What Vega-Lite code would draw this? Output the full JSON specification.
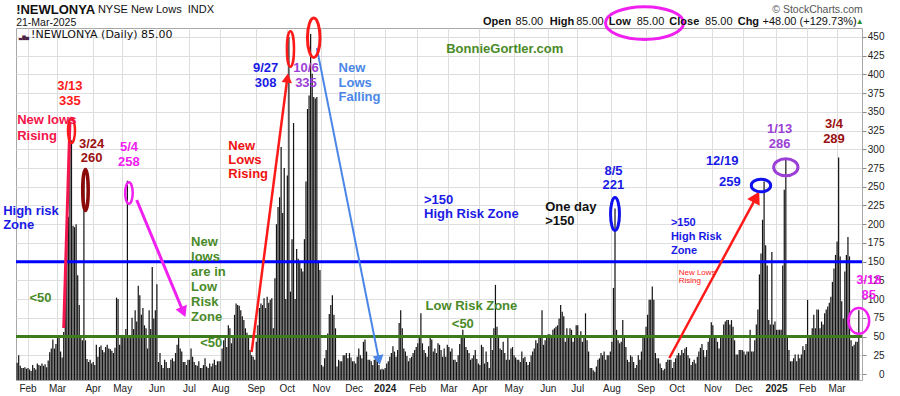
{
"$schema":"https://vega.github.io/schema/vega-lite/v6.json",
"width":846,"height":352,
"autosize":{"type":"none"},
"padding":{"left":16,"top":28,"right":38,"bottom":16},
"background":"white",
"config":{"view":{"stroke":"#a8a8a8"},"font":"Liberation Sans"},
"resolve":{"axis":{"x":"independent","y":"independent"}},
"datasets":{
"lows":[
{"d":"2023-01-23","v":15},{"d":"2023-01-24","v":25},{"d":"2023-01-25","v":11},{"d":"2023-01-26","v":8},{"d":"2023-01-27","v":8},{"d":"2023-01-30","v":9},{"d":"2023-01-31","v":7},
{"d":"2023-02-01","v":8},{"d":"2023-02-02","v":6},{"d":"2023-02-03","v":4},{"d":"2023-02-06","v":12},{"d":"2023-02-07","v":8},{"d":"2023-02-08","v":6},{"d":"2023-02-09","v":14},{"d":"2023-02-10","v":12},{"d":"2023-02-13","v":11},{"d":"2023-02-14","v":14},{"d":"2023-02-15","v":11},{"d":"2023-02-16","v":13},{"d":"2023-02-17","v":9},{"d":"2023-02-21","v":18},{"d":"2023-02-22","v":29},{"d":"2023-02-23","v":34},{"d":"2023-02-24","v":46},{"d":"2023-02-27","v":34},{"d":"2023-02-28","v":40},
{"d":"2023-03-01","v":48},{"d":"2023-03-02","v":48},{"d":"2023-03-03","v":30},{"d":"2023-03-06","v":22},{"d":"2023-03-07","v":56},{"d":"2023-03-08","v":96},{"d":"2023-03-09","v":206},{"d":"2023-03-10","v":210},{"d":"2023-03-13","v":335},{"d":"2023-03-14","v":312},{"d":"2023-03-15","v":198},{"d":"2023-03-16","v":196},{"d":"2023-03-17","v":200},{"d":"2023-03-20","v":132},{"d":"2023-03-21","v":92},{"d":"2023-03-22","v":48},{"d":"2023-03-23","v":45},{"d":"2023-03-24","v":260},{"d":"2023-03-27","v":45},{"d":"2023-03-28","v":20},{"d":"2023-03-29","v":16},{"d":"2023-03-30","v":19},{"d":"2023-03-31","v":14},
{"d":"2023-04-03","v":16},{"d":"2023-04-04","v":12},{"d":"2023-04-05","v":39},{"d":"2023-04-06","v":23},{"d":"2023-04-10","v":36},{"d":"2023-04-11","v":38},{"d":"2023-04-12","v":32},{"d":"2023-04-13","v":29},{"d":"2023-04-14","v":36},{"d":"2023-04-17","v":39},{"d":"2023-04-18","v":34},{"d":"2023-04-19","v":33},{"d":"2023-04-20","v":31},{"d":"2023-04-21","v":28},{"d":"2023-04-24","v":35},{"d":"2023-04-25","v":102},{"d":"2023-04-26","v":100},{"d":"2023-04-27","v":39},{"d":"2023-04-28","v":50},
{"d":"2023-05-01","v":48},{"d":"2023-05-02","v":52},{"d":"2023-05-03","v":60},{"d":"2023-05-04","v":258},{"d":"2023-05-05","v":48},{"d":"2023-05-08","v":48},{"d":"2023-05-09","v":75},{"d":"2023-05-10","v":60},{"d":"2023-05-11","v":85},{"d":"2023-05-12","v":70},{"d":"2023-05-15","v":118},{"d":"2023-05-16","v":105},{"d":"2023-05-17","v":79},{"d":"2023-05-18","v":88},{"d":"2023-05-19","v":65},{"d":"2023-05-22","v":61},{"d":"2023-05-23","v":34},{"d":"2023-05-24","v":85},{"d":"2023-05-25","v":60},{"d":"2023-05-26","v":143},{"d":"2023-05-30","v":74},{"d":"2023-05-31","v":85},
{"d":"2023-06-01","v":120},{"d":"2023-06-02","v":16},{"d":"2023-06-05","v":28},{"d":"2023-06-06","v":12},{"d":"2023-06-07","v":8},{"d":"2023-06-08","v":19},{"d":"2023-06-09","v":16},{"d":"2023-06-12","v":8},{"d":"2023-06-13","v":8},{"d":"2023-06-14","v":19},{"d":"2023-06-15","v":21},{"d":"2023-06-16","v":17},{"d":"2023-06-20","v":28},{"d":"2023-06-21","v":39},{"d":"2023-06-22","v":48},{"d":"2023-06-23","v":34},{"d":"2023-06-26","v":30},{"d":"2023-06-27","v":16},{"d":"2023-06-28","v":16},{"d":"2023-06-29","v":12},{"d":"2023-06-30","v":19},
{"d":"2023-07-03","v":19},{"d":"2023-07-05","v":34},{"d":"2023-07-06","v":23},{"d":"2023-07-07","v":16},{"d":"2023-07-10","v":12},{"d":"2023-07-11","v":11},{"d":"2023-07-12","v":17},{"d":"2023-07-13","v":8},{"d":"2023-07-14","v":8},{"d":"2023-07-17","v":12},{"d":"2023-07-18","v":21},{"d":"2023-07-19","v":10},{"d":"2023-07-20","v":8},{"d":"2023-07-21","v":14},{"d":"2023-07-24","v":10},{"d":"2023-07-25","v":14},{"d":"2023-07-26","v":19},{"d":"2023-07-27","v":12},{"d":"2023-07-28","v":17},{"d":"2023-07-31","v":17},
{"d":"2023-08-01","v":17},{"d":"2023-08-02","v":34},{"d":"2023-08-03","v":45},{"d":"2023-08-04","v":48},{"d":"2023-08-07","v":36},{"d":"2023-08-08","v":65},{"d":"2023-08-09","v":61},{"d":"2023-08-10","v":41},{"d":"2023-08-11","v":52},{"d":"2023-08-14","v":79},{"d":"2023-08-15","v":94},{"d":"2023-08-16","v":92},{"d":"2023-08-17","v":91},{"d":"2023-08-18","v":85},{"d":"2023-08-21","v":77},{"d":"2023-08-22","v":72},{"d":"2023-08-23","v":61},{"d":"2023-08-24","v":55},{"d":"2023-08-25","v":48},{"d":"2023-08-28","v":32},{"d":"2023-08-29","v":25},{"d":"2023-08-30","v":23},{"d":"2023-08-31","v":19},
{"d":"2023-09-01","v":43},{"d":"2023-09-05","v":65},{"d":"2023-09-06","v":88},{"d":"2023-09-07","v":94},{"d":"2023-09-08","v":92},{"d":"2023-09-11","v":101},{"d":"2023-09-12","v":88},{"d":"2023-09-13","v":103},{"d":"2023-09-14","v":95},{"d":"2023-09-15","v":99},{"d":"2023-09-18","v":101},{"d":"2023-09-19","v":61},{"d":"2023-09-20","v":128},{"d":"2023-09-21","v":200},{"d":"2023-09-22","v":223},{"d":"2023-09-25","v":236},{"d":"2023-09-26","v":303},{"d":"2023-09-27","v":215},{"d":"2023-09-28","v":275},{"d":"2023-09-29","v":100},
{"d":"2023-10-02","v":265},{"d":"2023-10-03","v":450},{"d":"2023-10-04","v":110},{"d":"2023-10-05","v":180},{"d":"2023-10-06","v":335},{"d":"2023-10-09","v":100},{"d":"2023-10-10","v":167},{"d":"2023-10-11","v":154},{"d":"2023-10-12","v":150},{"d":"2023-10-13","v":141},{"d":"2023-10-16","v":137},{"d":"2023-10-17","v":180},{"d":"2023-10-18","v":257},{"d":"2023-10-19","v":354},{"d":"2023-10-20","v":372},{"d":"2023-10-23","v":454},{"d":"2023-10-24","v":401},{"d":"2023-10-25","v":370},{"d":"2023-10-26","v":368},{"d":"2023-10-27","v":370},{"d":"2023-10-30","v":150},{"d":"2023-10-31","v":139},
{"d":"2023-11-01","v":12},{"d":"2023-11-02","v":10},{"d":"2023-11-03","v":21},{"d":"2023-11-06","v":32},{"d":"2023-11-07","v":54},{"d":"2023-11-08","v":80},{"d":"2023-11-09","v":92},{"d":"2023-11-10","v":105},{"d":"2023-11-13","v":79},{"d":"2023-11-14","v":61},{"d":"2023-11-15","v":10},{"d":"2023-11-16","v":19},{"d":"2023-11-17","v":17},{"d":"2023-11-20","v":17},{"d":"2023-11-21","v":25},{"d":"2023-11-22","v":25},{"d":"2023-11-24","v":28},{"d":"2023-11-27","v":21},{"d":"2023-11-28","v":28},{"d":"2023-11-29","v":22},{"d":"2023-11-30","v":17},
{"d":"2023-12-01","v":17},{"d":"2023-12-04","v":14},{"d":"2023-12-05","v":23},{"d":"2023-12-06","v":34},{"d":"2023-12-07","v":25},{"d":"2023-12-08","v":21},{"d":"2023-12-11","v":43},{"d":"2023-12-12","v":46},{"d":"2023-12-13","v":30},{"d":"2023-12-14","v":19},{"d":"2023-12-15","v":19},{"d":"2023-12-18","v":17},{"d":"2023-12-19","v":12},{"d":"2023-12-20","v":19},{"d":"2023-12-21","v":21},{"d":"2023-12-22","v":17},{"d":"2023-12-26","v":12},{"d":"2023-12-27","v":6},{"d":"2023-12-28","v":7},{"d":"2023-12-29","v":6},
{"d":"2024-01-02","v":8},{"d":"2024-01-03","v":14},{"d":"2024-01-04","v":17},{"d":"2024-01-05","v":23},{"d":"2024-01-08","v":28},{"d":"2024-01-09","v":37},{"d":"2024-01-10","v":30},{"d":"2024-01-11","v":23},{"d":"2024-01-12","v":32},{"d":"2024-01-16","v":68},{"d":"2024-01-17","v":85},{"d":"2024-01-18","v":61},{"d":"2024-01-19","v":34},{"d":"2024-01-22","v":30},{"d":"2024-01-23","v":24},{"d":"2024-01-24","v":17},{"d":"2024-01-25","v":21},{"d":"2024-01-26","v":23},{"d":"2024-01-29","v":28},{"d":"2024-01-30","v":32},{"d":"2024-01-31","v":36},
{"d":"2024-02-01","v":41},{"d":"2024-02-02","v":48},{"d":"2024-02-05","v":81},{"d":"2024-02-06","v":41},{"d":"2024-02-07","v":32},{"d":"2024-02-08","v":28},{"d":"2024-02-09","v":23},{"d":"2024-02-12","v":37},{"d":"2024-02-13","v":48},{"d":"2024-02-14","v":46},{"d":"2024-02-15","v":30},{"d":"2024-02-16","v":34},{"d":"2024-02-20","v":28},{"d":"2024-02-21","v":41},{"d":"2024-02-22","v":39},{"d":"2024-02-23","v":32},{"d":"2024-02-26","v":23},{"d":"2024-02-27","v":34},{"d":"2024-02-28","v":23},{"d":"2024-02-29","v":39},
{"d":"2024-03-01","v":36},{"d":"2024-03-04","v":30},{"d":"2024-03-05","v":34},{"d":"2024-03-06","v":19},{"d":"2024-03-07","v":19},{"d":"2024-03-08","v":16},{"d":"2024-03-11","v":25},{"d":"2024-03-12","v":40},{"d":"2024-03-13","v":48},{"d":"2024-03-14","v":59},{"d":"2024-03-15","v":48},{"d":"2024-03-18","v":36},{"d":"2024-03-19","v":32},{"d":"2024-03-20","v":28},{"d":"2024-03-21","v":19},{"d":"2024-03-22","v":21},{"d":"2024-03-25","v":25},{"d":"2024-03-26","v":32},{"d":"2024-03-27","v":20},{"d":"2024-03-28","v":14},
{"d":"2024-04-01","v":12},{"d":"2024-04-02","v":39},{"d":"2024-04-03","v":36},{"d":"2024-04-04","v":14},{"d":"2024-04-05","v":30},{"d":"2024-04-08","v":16},{"d":"2024-04-09","v":8},{"d":"2024-04-10","v":48},{"d":"2024-04-11","v":32},{"d":"2024-04-12","v":61},{"d":"2024-04-15","v":119},{"d":"2024-04-16","v":63},{"d":"2024-04-17","v":48},{"d":"2024-04-18","v":34},{"d":"2024-04-19","v":32},{"d":"2024-04-22","v":43},{"d":"2024-04-23","v":28},{"d":"2024-04-24","v":19},{"d":"2024-04-25","v":48},{"d":"2024-04-26","v":19},{"d":"2024-04-29","v":34},{"d":"2024-04-30","v":36},
{"d":"2024-05-01","v":25},{"d":"2024-05-02","v":22},{"d":"2024-05-03","v":19},{"d":"2024-05-06","v":19},{"d":"2024-05-07","v":16},{"d":"2024-05-08","v":30},{"d":"2024-05-09","v":21},{"d":"2024-05-10","v":23},{"d":"2024-05-13","v":16},{"d":"2024-05-14","v":12},{"d":"2024-05-15","v":16},{"d":"2024-05-16","v":25},{"d":"2024-05-17","v":30},{"d":"2024-05-20","v":34},{"d":"2024-05-21","v":45},{"d":"2024-05-22","v":41},{"d":"2024-05-23","v":52},{"d":"2024-05-24","v":52},{"d":"2024-05-28","v":85},{"d":"2024-05-29","v":39},{"d":"2024-05-30","v":45},{"d":"2024-05-31","v":48},
{"d":"2024-06-03","v":53},{"d":"2024-06-04","v":53},{"d":"2024-06-05","v":48},{"d":"2024-06-06","v":59},{"d":"2024-06-07","v":61},{"d":"2024-06-10","v":63},{"d":"2024-06-11","v":65},{"d":"2024-06-12","v":74},{"d":"2024-06-13","v":92},{"d":"2024-06-14","v":83},{"d":"2024-06-17","v":77},{"d":"2024-06-18","v":43},{"d":"2024-06-20","v":61},{"d":"2024-06-21","v":52},{"d":"2024-06-24","v":61},{"d":"2024-06-25","v":59},{"d":"2024-06-26","v":43},{"d":"2024-06-27","v":50},{"d":"2024-06-28","v":65},
{"d":"2024-07-01","v":65},{"d":"2024-07-02","v":48},{"d":"2024-07-03","v":57},{"d":"2024-07-05","v":43},{"d":"2024-07-08","v":50},{"d":"2024-07-09","v":81},{"d":"2024-07-10","v":45},{"d":"2024-07-11","v":30},{"d":"2024-07-12","v":8},{"d":"2024-07-15","v":8},{"d":"2024-07-16","v":5},{"d":"2024-07-17","v":3},{"d":"2024-07-18","v":10},{"d":"2024-07-19","v":19},{"d":"2024-07-22","v":21},{"d":"2024-07-23","v":28},{"d":"2024-07-24","v":25},{"d":"2024-07-25","v":30},{"d":"2024-07-26","v":19},{"d":"2024-07-29","v":25},{"d":"2024-07-30","v":25},{"d":"2024-07-31","v":30},
{"d":"2024-08-01","v":43},{"d":"2024-08-02","v":115},{"d":"2024-08-05","v":221},{"d":"2024-08-06","v":59},{"d":"2024-08-07","v":45},{"d":"2024-08-08","v":41},{"d":"2024-08-09","v":43},{"d":"2024-08-12","v":72},{"d":"2024-08-13","v":48},{"d":"2024-08-14","v":36},{"d":"2024-08-15","v":19},{"d":"2024-08-16","v":16},{"d":"2024-08-19","v":25},{"d":"2024-08-20","v":23},{"d":"2024-08-21","v":16},{"d":"2024-08-22","v":8},{"d":"2024-08-23","v":12},{"d":"2024-08-26","v":25},{"d":"2024-08-27","v":19},{"d":"2024-08-28","v":30},{"d":"2024-08-29","v":48},{"d":"2024-08-30","v":48},
{"d":"2024-09-03","v":63},{"d":"2024-09-04","v":79},{"d":"2024-09-05","v":99},{"d":"2024-09-06","v":99},{"d":"2024-09-09","v":117},{"d":"2024-09-10","v":99},{"d":"2024-09-11","v":28},{"d":"2024-09-12","v":21},{"d":"2024-09-13","v":21},{"d":"2024-09-16","v":14},{"d":"2024-09-17","v":8},{"d":"2024-09-18","v":5},{"d":"2024-09-19","v":7},{"d":"2024-09-20","v":16},{"d":"2024-09-23","v":19},{"d":"2024-09-24","v":19},{"d":"2024-09-25","v":19},{"d":"2024-09-26","v":8},{"d":"2024-09-27","v":16},{"d":"2024-09-30","v":21},
{"d":"2024-10-01","v":25},{"d":"2024-10-02","v":28},{"d":"2024-10-03","v":25},{"d":"2024-10-04","v":32},{"d":"2024-10-07","v":28},{"d":"2024-10-08","v":34},{"d":"2024-10-09","v":36},{"d":"2024-10-10","v":25},{"d":"2024-10-11","v":21},{"d":"2024-10-14","v":12},{"d":"2024-10-15","v":16},{"d":"2024-10-16","v":19},{"d":"2024-10-17","v":14},{"d":"2024-10-18","v":23},{"d":"2024-10-21","v":30},{"d":"2024-10-22","v":35},{"d":"2024-10-23","v":40},{"d":"2024-10-24","v":32},{"d":"2024-10-25","v":23},{"d":"2024-10-28","v":32},{"d":"2024-10-29","v":43},{"d":"2024-10-30","v":52},{"d":"2024-10-31","v":69},
{"d":"2024-11-01","v":65},{"d":"2024-11-04","v":52},{"d":"2024-11-05","v":48},{"d":"2024-11-06","v":43},{"d":"2024-11-07","v":34},{"d":"2024-11-08","v":48},{"d":"2024-11-11","v":50},{"d":"2024-11-12","v":66},{"d":"2024-11-13","v":70},{"d":"2024-11-14","v":72},{"d":"2024-11-15","v":72},{"d":"2024-11-18","v":66},{"d":"2024-11-19","v":72},{"d":"2024-11-20","v":63},{"d":"2024-11-21","v":45},{"d":"2024-11-22","v":26},{"d":"2024-11-25","v":26},{"d":"2024-11-26","v":32},{"d":"2024-11-27","v":32},{"d":"2024-11-29","v":32},
{"d":"2024-12-02","v":30},{"d":"2024-12-03","v":26},{"d":"2024-12-04","v":30},{"d":"2024-12-05","v":30},{"d":"2024-12-06","v":59},{"d":"2024-12-09","v":30},{"d":"2024-12-10","v":30},{"d":"2024-12-11","v":45},{"d":"2024-12-12","v":66},{"d":"2024-12-13","v":86},{"d":"2024-12-16","v":133},{"d":"2024-12-17","v":161},{"d":"2024-12-18","v":206},{"d":"2024-12-19","v":257},{"d":"2024-12-20","v":172},{"d":"2024-12-23","v":145},{"d":"2024-12-24","v":72},{"d":"2024-12-26","v":66},{"d":"2024-12-27","v":163},{"d":"2024-12-30","v":66},{"d":"2024-12-31","v":70},
{"d":"2025-01-02","v":59},{"d":"2025-01-03","v":59},{"d":"2025-01-06","v":59},{"d":"2025-01-07","v":59},{"d":"2025-01-08","v":145},{"d":"2025-01-10","v":246},{"d":"2025-01-13","v":286},{"d":"2025-01-14","v":52},{"d":"2025-01-15","v":32},{"d":"2025-01-16","v":17},{"d":"2025-01-17","v":17},{"d":"2025-01-21","v":21},{"d":"2025-01-22","v":26},{"d":"2025-01-23","v":17},{"d":"2025-01-24","v":26},{"d":"2025-01-27","v":21},{"d":"2025-01-28","v":26},{"d":"2025-01-29","v":37},{"d":"2025-01-30","v":32},{"d":"2025-01-31","v":40},
{"d":"2025-02-03","v":99},{"d":"2025-02-04","v":52},{"d":"2025-02-05","v":52},{"d":"2025-02-06","v":61},{"d":"2025-02-07","v":79},{"d":"2025-02-10","v":61},{"d":"2025-02-11","v":86},{"d":"2025-02-12","v":86},{"d":"2025-02-13","v":61},{"d":"2025-02-14","v":70},{"d":"2025-02-18","v":66},{"d":"2025-02-19","v":81},{"d":"2025-02-20","v":86},{"d":"2025-02-21","v":90},{"d":"2025-02-24","v":95},{"d":"2025-02-25","v":103},{"d":"2025-02-26","v":123},{"d":"2025-02-27","v":141},{"d":"2025-02-28","v":159},
{"d":"2025-03-03","v":177},{"d":"2025-03-04","v":289},{"d":"2025-03-05","v":157},{"d":"2025-03-06","v":97},{"d":"2025-03-07","v":74},{"d":"2025-03-10","v":137},{"d":"2025-03-11","v":159},{"d":"2025-03-12","v":183},{"d":"2025-03-13","v":157},{"d":"2025-03-14","v":45},{"d":"2025-03-17","v":37},{"d":"2025-03-18","v":39},{"d":"2025-03-19","v":43},{"d":"2025-03-20","v":43},{"d":"2025-03-21","v":85}
]
},
"layer":[
{"data":{"name":"lows"},
 "mark":{"type":"bar","color":"#141414"},
 "encoding":{
  "x":{"field":"d","type":"ordinal","scale":{"type":"band","paddingInner":0.22,"paddingOuter":1.33,"align":0.17,"round":false},
   "axis":{"title":null,"values":["2023-02-01","2023-03-01","2023-04-03","2023-05-01","2023-06-01","2023-07-03","2023-08-01","2023-09-01","2023-10-02","2023-11-01","2023-12-01","2024-01-02","2024-02-01","2024-03-01","2024-04-01","2024-05-01","2024-06-03","2024-07-01","2024-08-01","2024-09-03","2024-10-01","2024-11-01","2024-12-02","2025-01-02","2025-02-03","2025-03-03"],
    "labelExpr":"slice(datum.value,5,7)=='01' ? slice(datum.value,0,4) : utcFormat(toDate(datum.value),'%b')",
    "labelFontWeight":{"condition":{"test":"slice(datum.value,5,7)=='01'","value":"bold"},"value":"normal"},
    "labelAngle":0,"labelFontSize":10,"labelColor":"#222","ticks":false,"labelPadding":3,"domain":false,"grid":true,"gridColor":"#dedede","labelOverlap":false}},
  "y":{"field":"v","type":"quantitative","scale":{"domain":[-8,462],"nice":false,"zero":false},
   "axis":{"title":null,"orient":"right","values":[0,25,50,75,100,125,150,175,200,225,250,275,300,325,350,375,400,425,450],"domain":false,"tickSize":4,"tickColor":"#888","labelAlign":"right","labelPadding":18,"labelFontSize":10,"labelColor":"#222","grid":true,"gridColor":"#dedede"}},
  "y2":{"datum":-8}}},
{"data":{"values":[{"v":150}]},"mark":{"type":"rule","color":"#0000ff","strokeWidth":3},"encoding":{"y":{"field":"v","type":"quantitative","axis":null}}},
{"data":{"values":[{"v":50}]},"mark":{"type":"rule","color":"#3c7c1c","strokeWidth":3},"encoding":{"y":{"field":"v","type":"quantitative","axis":null}}},

{"data":{"values":[{"d":"2023-03-07","v":61.4,"d2":"2023-03-13","v2":336.9}]},"mark":{"type":"rule","color":"#f5144b","strokeWidth":3},
 "encoding":{"x":{"field":"d","type":"ordinal","axis":null},"x2":{"field":"d2"},"y":{"field":"v","type":"quantitative","axis":null},"y2":{"field":"v2"}}},
{"data":{"values":[{"d":"2023-05-12","v":232.3,"d2":"2023-06-27","v2":82.8}]},"mark":{"type":"rule","color":"#f020f0","strokeWidth":3},
 "encoding":{"x":{"field":"d","type":"ordinal","axis":null},"x2":{"field":"d2"},"y":{"field":"v","type":"quantitative","axis":null},"y2":{"field":"v2"}}},
{"data":{"values":[{"d":"2023-08-29","v":29.4,"d2":"2023-10-02","v2":395.2},{"d":"2024-09-24","v":21.4,"d2":"2024-12-12","v2":236.3}]},"mark":{"type":"rule","color":"#ff1a1a","strokeWidth":2.5},
 "encoding":{"x":{"field":"d","type":"ordinal","axis":null},"x2":{"field":"d2"},"y":{"field":"v","type":"quantitative","axis":null},"y2":{"field":"v2"}}},
{"data":{"values":[{"d":"2023-10-27","v":435.2,"d2":"2023-12-26","v2":18.7}]},"mark":{"type":"rule","color":"#4a86e8","strokeWidth":2},
 "encoding":{"x":{"field":"d","type":"ordinal","axis":null},"x2":{"field":"d2"},"y":{"field":"v","type":"quantitative","axis":null},"y2":{"field":"v2"}}},

{"data":{"values":[{"d":"2023-06-27","v":82.8}]},"mark":{"type":"point","shape":"triangle-up","filled":true,"color":"#f020f0","size":150,"angle":157,"opacity":1},
 "encoding":{"x":{"field":"d","type":"ordinal","axis":null},"y":{"field":"v","type":"quantitative","axis":null}}},
{"data":{"values":[{"d":"2023-10-02","v":395.2}]},"mark":{"type":"point","shape":"triangle-up","filled":true,"color":"#ff1a1a","size":110,"angle":7,"opacity":1},
 "encoding":{"x":{"field":"d","type":"ordinal","axis":null},"y":{"field":"v","type":"quantitative","axis":null}}},
{"data":{"values":[{"d":"2024-12-12","v":236.3}]},"mark":{"type":"point","shape":"triangle-up","filled":true,"color":"#ff1a1a","size":200,"angle":28,"opacity":1},
 "encoding":{"x":{"field":"d","type":"ordinal","axis":null},"y":{"field":"v","type":"quantitative","axis":null}}},
{"data":{"values":[{"d":"2023-12-26","v":18.7}]},"mark":{"type":"point","shape":"triangle-up","filled":true,"color":"#4a86e8","size":120,"angle":169,"opacity":1},
 "encoding":{"x":{"field":"d","type":"ordinal","axis":null},"y":{"field":"v","type":"quantitative","axis":null}}},

{"data":{"values":[{"d":"2023-03-14","v":325}]},"mark":{"type":"point","shape":"M-0.28,0A0.28,1,0,1,1,0.28,0A0.28,1,0,1,1,-0.28,0Z","size":625,"filled":false,"stroke":"#ff1a1a","strokeWidth":2.5,"opacity":1},
 "encoding":{"x":{"field":"d","type":"ordinal","axis":null},"y":{"field":"v","type":"quantitative","axis":null}}},
{"data":{"values":[{"d":"2023-03-27","v":245.7}]},"mark":{"type":"point","shape":"M-0.134,0A0.134,1,0,1,1,0.134,0A0.134,1,0,1,1,-0.134,0Z","size":1681,"filled":false,"stroke":"#8b0a0a","strokeWidth":3.5,"opacity":1},
 "encoding":{"x":{"field":"d","type":"ordinal","axis":null},"y":{"field":"v","type":"quantitative","axis":null}}},
{"data":{"values":[{"d":"2023-05-05","v":241.7}]},"mark":{"type":"point","shape":"M-0.35,0A0.35,1,0,1,1,0.35,0A0.35,1,0,1,1,-0.35,0Z","size":462,"filled":false,"stroke":"#f020f0","strokeWidth":2.5,"opacity":1},
 "encoding":{"x":{"field":"d","type":"ordinal","axis":null},"y":{"field":"v","type":"quantitative","axis":null}}},
{"data":{"values":[{"d":"2023-10-04","v":434}]},"mark":{"type":"point","shape":"M-0.2,0A0.2,1,0,1,1,0.2,0A0.2,1,0,1,1,-0.2,0Z","size":1260,"filled":false,"stroke":"#ff1a1a","strokeWidth":2.5,"opacity":1},
 "encoding":{"x":{"field":"d","type":"ordinal","axis":null},"y":{"field":"v","type":"quantitative","axis":null}}},
{"data":{"values":[{"d":"2023-10-25","v":449}]},"mark":{"type":"point","shape":"M-0.32,0A0.32,1,0,1,1,0.32,0A0.32,1,0,1,1,-0.32,0Z","size":1544,"filled":false,"stroke":"#ff1a1a","strokeWidth":3,"opacity":1},
 "encoding":{"x":{"field":"d","type":"ordinal","axis":null},"y":{"field":"v","type":"quantitative","axis":null}}},
{"data":{"values":[{"d":"2024-08-05","v":213.6}]},"mark":{"type":"point","shape":"M-0.27,0A0.27,1,0,1,1,0.27,0A0.27,1,0,1,1,-0.27,0Z","size":1089,"filled":false,"stroke":"#1010ee","strokeWidth":3,"opacity":1},
 "encoding":{"x":{"field":"d","type":"ordinal","axis":null},"y":{"field":"v","type":"quantitative","axis":null}}},
{"data":{"values":[{"d":"2024-12-17","v":251.7}]},"mark":{"type":"point","shape":"M-1,0A1,0.65,0,1,1,1,0A1,0.65,0,1,1,-1,0Z","size":376,"filled":false,"stroke":"#1010ee","strokeWidth":3,"opacity":1},
 "encoding":{"x":{"field":"d","type":"ordinal","axis":null},"y":{"field":"v","type":"quantitative","axis":null}}},
{"data":{"values":[{"d":"2025-01-13","v":276}]},"mark":{"type":"point","shape":"M-1,0A1,0.7,0,1,1,1,0A1,0.7,0,1,1,-1,0Z","size":590,"filled":false,"stroke":"#9b3fd6","strokeWidth":3,"opacity":1},
 "encoding":{"x":{"field":"d","type":"ordinal","axis":null},"y":{"field":"v","type":"quantitative","axis":null}}},
{"data":{"values":[{"d":"2025-03-21","v":71}]},"mark":{"type":"point","shape":"M-0.806,0A0.806,1,0,1,1,0.806,0A0.806,1,0,1,1,-0.806,0Z","size":666,"filled":false,"stroke":"#f020f0","strokeWidth":2.5,"opacity":1,"dx":5},
 "encoding":{"x":{"field":"d","type":"ordinal","axis":null},"y":{"field":"v","type":"quantitative","axis":null}}},
{"data":{"values":[{"d":"2024-08-30","v":468.6}]},"mark":{"type":"point","shape":"M-1,0A1,0.42,0,1,1,1,0A1,0.42,0,1,1,-1,0Z","size":6084,"filled":false,"stroke":"#f020f0","strokeWidth":3,"opacity":1},
 "encoding":{"x":{"field":"d","type":"ordinal","axis":null},"y":{"field":"v","type":"quantitative","axis":null}}},

{"data":{"values":[{"d":"2023-01-23","v":486.6,"t":"!NEWLONYA"}]},"mark":{"type":"text","align":"left","baseline":"middle","fontSize":13,"fontWeight":"bold","color":"#111","dx":-1},
 "encoding":{"x":{"field":"d","type":"ordinal","axis":null},"y":{"field":"v","type":"quantitative","axis":null},"text":{"field":"t"}}},
{"data":{"values":[{"d":"2023-04-06","v":486.6,"t":"NYSE New Lows\u00a0 INDX"}]},"mark":{"type":"text","align":"left","baseline":"middle","fontSize":11,"color":"#111"},
 "encoding":{"x":{"field":"d","type":"ordinal","axis":null},"y":{"field":"v","type":"quantitative","axis":null},"text":{"field":"t"}}},
{"data":{"values":[{"d":"2023-01-23","v":468.6,"t":"21-Mar-2025"}]},"mark":{"type":"text","align":"left","baseline":"middle","fontSize":10.5,"color":"#111","dx":-1},
 "encoding":{"x":{"field":"d","type":"ordinal","axis":null},"y":{"field":"v","type":"quantitative","axis":null},"text":{"field":"t"}}},
{"data":{"values":[{"d":"2023-01-24","v":447.3,"t":"\u2583\u2587\u2585"}]},"mark":{"type":"text","align":"left","baseline":"alphabetic","fontSize":4.5,"font":"DejaVu Sans","color":"#4b2040"},
 "encoding":{"x":{"field":"d","type":"ordinal","axis":null},"y":{"field":"v","type":"quantitative","axis":null},"text":{"field":"t"}}},
{"data":{"values":[{"d":"2023-02-03","v":452,"t":"!NEWLONYA (Daily) 85.00"}]},"mark":{"type":"text","align":"left","baseline":"middle","fontSize":11,"font":"DejaVu Sans","color":"#111"},
 "encoding":{"x":{"field":"d","type":"ordinal","axis":null},"y":{"field":"v","type":"quantitative","axis":null},"text":{"field":"t"}}},
{"data":{"values":[{"d":"2025-03-21","v":486.4,"t":"\u00a9 StockCharts.com"}]},"mark":{"type":"text","align":"right","baseline":"middle","fontSize":10.5,"color":"#555","dx":4},
 "encoding":{"x":{"field":"d","type":"ordinal","axis":null},"y":{"field":"v","type":"quantitative","axis":null},"text":{"field":"t"}}},
{"data":{"values":[{"d":"2024-04-03","v":469.7,"t":"Open"},{"d":"2024-06-04","v":469.7,"t":"High"},{"d":"2024-07-30","v":469.7,"t":"Low"},{"d":"2024-09-24","v":469.7,"t":"Close"},{"d":"2024-11-25","v":469.7,"t":"Chg"}]},"mark":{"type":"text","align":"left","baseline":"middle","fontSize":11,"fontWeight":"bold","color":"#111"},
 "encoding":{"x":{"field":"d","type":"ordinal","axis":null},"y":{"field":"v","type":"quantitative","axis":null},"text":{"field":"t"}}},
{"data":{"values":[{"d":"2024-05-02","v":469.7,"t":"85.00"},{"d":"2024-06-28","v":469.7,"t":"85.00"},{"d":"2024-08-23","v":469.7,"t":"85.00"},{"d":"2024-10-25","v":469.7,"t":"85.00"},{"d":"2024-12-18","v":469.7,"t":"+48.00 (+129.73%)"}]},"mark":{"type":"text","align":"left","baseline":"middle","fontSize":11,"color":"#111"},
 "encoding":{"x":{"field":"d","type":"ordinal","axis":null},"y":{"field":"v","type":"quantitative","axis":null},"text":{"field":"t"}}},
{"data":{"values":[{"d":"2025-03-21","v":469.7,"t":"\u25b2"}]},"mark":{"type":"text","align":"center","baseline":"middle","fontSize":8,"color":"#2e8b2e","dx":1},
 "encoding":{"x":{"field":"d","type":"ordinal","axis":null},"y":{"field":"v","type":"quantitative","axis":null},"text":{"field":"t"}}},

{"data":{"values":[{"d":"2023-03-13","v":384.5,"t":"3/13"},{"d":"2023-03-13","v":364.5,"t":"335"}]},"mark":{"type":"text","align":"center","baseline":"middle","fontSize":13,"fontWeight":"bold","color":"#ff1a1a"},
 "encoding":{"x":{"field":"d","type":"ordinal","axis":null},"y":{"field":"v","type":"quantitative","axis":null},"text":{"field":"t"}}},
{"data":{"values":[{"d":"2023-01-23","v":339,"t":"New lows"},{"d":"2023-01-23","v":317.8,"t":"Rising"}]},"mark":{"type":"text","align":"left","baseline":"middle","fontSize":13,"fontWeight":"bold","color":"#f5144b"},
 "encoding":{"x":{"field":"d","type":"ordinal","axis":null},"y":{"field":"v","type":"quantitative","axis":null},"text":{"field":"t"}}},
{"data":{"values":[{"d":"2023-03-31","v":307,"t":"3/24"},{"d":"2023-03-31","v":288.4,"t":"260"},{"d":"2025-02-27","v":333.8,"t":"3/4"},{"d":"2025-02-27","v":313.8,"t":"289"}]},"mark":{"type":"text","align":"center","baseline":"middle","fontSize":13,"fontWeight":"bold","color":"#9b1010"},
 "encoding":{"x":{"field":"d","type":"ordinal","axis":null},"y":{"field":"v","type":"quantitative","axis":null},"text":{"field":"t"}}},
{"data":{"values":[{"d":"2023-05-05","v":303,"t":"5/4"},{"d":"2023-05-05","v":283,"t":"258"}]},"mark":{"type":"text","align":"center","baseline":"middle","fontSize":13,"fontWeight":"bold","color":"#f020f0"},
 "encoding":{"x":{"field":"d","type":"ordinal","axis":null},"y":{"field":"v","type":"quantitative","axis":null},"text":{"field":"t"}}},
{"data":{"values":[{"d":"2025-03-21","v":125.5,"t":"3/18"},{"d":"2025-03-21","v":105.5,"t":"85"}]},"mark":{"type":"text","align":"center","baseline":"middle","fontSize":13,"fontWeight":"bold","color":"#f020f0","dx":10},
 "encoding":{"x":{"field":"d","type":"ordinal","axis":null},"y":{"field":"v","type":"quantitative","axis":null},"text":{"field":"t"}}},
{"data":{"values":[{"d":"2023-01-23","v":217.6,"t":"High risk"},{"d":"2023-01-23","v":199,"t":"Zone"}]},"mark":{"type":"text","align":"left","baseline":"middle","fontSize":13,"fontWeight":"bold","color":"#1a1ae6","dx":-14},
 "encoding":{"x":{"field":"d","type":"ordinal","axis":null},"y":{"field":"v","type":"quantitative","axis":null},"text":{"field":"t"}}},
{"data":{"values":[{"d":"2023-02-13","v":101.5,"t":"<50"},{"d":"2023-07-24","v":41.4,"t":"<50"},{"d":"2024-03-14","v":66.8,"t":"<50"},{"d":"2024-04-23","v":434,"t":"BonnieGortler.com"}]},"mark":{"type":"text","align":"center","baseline":"middle","fontSize":13,"fontWeight":"bold","color":"#4a8a28"},
 "encoding":{"x":{"field":"d","type":"ordinal","axis":null},"y":{"field":"v","type":"quantitative","axis":null},"text":{"field":"t"}}},
{"data":{"values":[{"d":"2023-07-05","v":176.2,"t":"New"},{"d":"2023-07-05","v":156.2,"t":"lows"},{"d":"2023-07-05","v":136.2,"t":"are in"},{"d":"2023-07-05","v":116.2,"t":"Low"},{"d":"2023-07-05","v":96.1,"t":"Risk"},{"d":"2023-07-05","v":76.1,"t":"Zone"},{"d":"2024-02-08","v":90.8,"t":"Low Risk Zone"}]},"mark":{"type":"text","align":"left","baseline":"middle","fontSize":13,"fontWeight":"bold","color":"#4a8a28"},
 "encoding":{"x":{"field":"d","type":"ordinal","axis":null},"y":{"field":"v","type":"quantitative","axis":null},"text":{"field":"t"}}},
{"data":{"values":[{"d":"2023-08-08","v":304.4,"t":"New"},{"d":"2023-08-08","v":285.7,"t":"Lows"},{"d":"2023-08-08","v":267,"t":"Rising"}]},"mark":{"type":"text","align":"left","baseline":"middle","fontSize":13,"fontWeight":"bold","color":"#ee1111"},
 "encoding":{"x":{"field":"d","type":"ordinal","axis":null},"y":{"field":"v","type":"quantitative","axis":null},"text":{"field":"t"}}},
{"data":{"values":[{"d":"2023-09-12","v":408.5,"t":"9/27"},{"d":"2023-09-12","v":388.5,"t":"308"},{"d":"2024-08-02","v":271,"t":"8/5"},{"d":"2024-08-02","v":252.3,"t":"221"},{"d":"2024-11-11","v":284.4,"t":"12/19"},{"d":"2024-11-18","v":256.3,"t":"259"}]},"mark":{"type":"text","align":"center","baseline":"middle","fontSize":13,"fontWeight":"bold","color":"#1a1ae6"},
 "encoding":{"x":{"field":"d","type":"ordinal","axis":null},"y":{"field":"v","type":"quantitative","axis":null},"text":{"field":"t"}}},
{"data":{"values":[{"d":"2023-10-18","v":408.5,"t":"10/6"},{"d":"2023-10-18","v":388.5,"t":"335"},{"d":"2025-01-06","v":327,"t":"1/13"},{"d":"2025-01-06","v":307,"t":"286"}]},"mark":{"type":"text","align":"center","baseline":"middle","fontSize":13,"fontWeight":"bold","color":"#9b3fd6"},
 "encoding":{"x":{"field":"d","type":"ordinal","axis":null},"y":{"field":"v","type":"quantitative","axis":null},"text":{"field":"t"}}},
{"data":{"values":[{"d":"2023-11-16","v":408.5,"t":"New"},{"d":"2023-11-16","v":388.5,"t":"Lows"},{"d":"2023-11-16","v":369.8,"t":"Falling"}]},"mark":{"type":"text","align":"left","baseline":"middle","fontSize":13,"fontWeight":"bold","color":"#4a86e8"},
 "encoding":{"x":{"field":"d","type":"ordinal","axis":null},"y":{"field":"v","type":"quantitative","axis":null},"text":{"field":"t"}}},
{"data":{"values":[{"d":"2024-02-07","v":232.3,"t":">150"},{"d":"2024-02-07","v":213.6,"t":"High Risk Zone"}]},"mark":{"type":"text","align":"left","baseline":"middle","fontSize":13,"fontWeight":"bold","color":"#1a1ae6"},
 "encoding":{"x":{"field":"d","type":"ordinal","axis":null},"y":{"field":"v","type":"quantitative","axis":null},"text":{"field":"t"}}},
{"data":{"values":[{"d":"2024-05-30","v":223,"t":"One day"},{"d":"2024-05-30","v":204.3,"t":">150"}]},"mark":{"type":"text","align":"left","baseline":"middle","fontSize":13,"fontWeight":"bold","color":"#111"},
 "encoding":{"x":{"field":"d","type":"ordinal","axis":null},"y":{"field":"v","type":"quantitative","axis":null},"text":{"field":"t"}}},
{"data":{"values":[{"d":"2024-09-25","v":201.6,"t":">150"},{"d":"2024-09-25","v":182.9,"t":"High Risk"},{"d":"2024-09-25","v":164.2,"t":"Zone"}]},"mark":{"type":"text","align":"left","baseline":"middle","fontSize":11,"fontWeight":"bold","color":"#1a1ae6"},
 "encoding":{"x":{"field":"d","type":"ordinal","axis":null},"y":{"field":"v","type":"quantitative","axis":null},"text":{"field":"t"}}},
{"data":{"values":[{"d":"2024-10-02","v":134.8,"t":"New Lows"},{"d":"2024-10-02","v":124.2,"t":"Rising"}]},"mark":{"type":"text","align":"left","baseline":"middle","fontSize":8,"color":"#ff1a1a"},
 "encoding":{"x":{"field":"d","type":"ordinal","axis":null},"y":{"field":"v","type":"quantitative","axis":null},"text":{"field":"t"}}}
]
}
